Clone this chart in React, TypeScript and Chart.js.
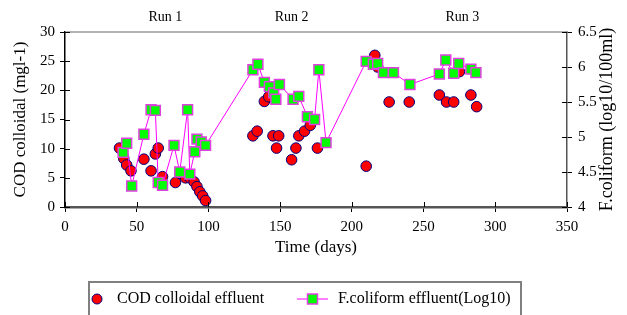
import React, { useEffect, useRef } from "react";
import { Chart, registerables } from "chart.js";

Chart.register(...registerables);

// ---------- data ----------
const codDays = [38, 41, 43, 46, 55, 60, 63, 65, 68, 77, 80, 84, 87, 90, 92, 94, 96, 98,
  131, 134, 139, 142, 145, 147.5, 149, 158, 161, 163, 167, 171, 176,
  210, 216, 218, 226, 240, 261, 266, 271, 275, 283, 287];
const codValues = [10.1, 8.3, 7.2, 6.2, 8.2, 6.2, 9.1, 10.1, 5.2, 4.2, 5.8, 5.0, 5.0, 4.3, 3.5, 2.6, 1.9, 1.1,
  12.2, 13.0, 18.1, 18.9, 12.2, 10.1, 12.2, 8.1, 10.1, 12.2, 13.0, 14.0, 10.1,
  7.0, 26.0, 24.0, 18.0, 18.0, 19.2, 18.0, 18.0, 23.2, 19.2, 17.2];

const fcDays = [40.5, 43, 46.5, 55, 60, 63, 65, 68, 76, 80, 85.5, 87, 90.5, 92, 95, 98,
  131, 134.5, 139, 142.5, 145.5, 147, 149.5, 159, 163, 169, 174, 177, 182,
  210, 215, 218, 222, 229, 240.5, 261, 265.5, 271, 274.5, 283, 286.5];
const fcValues = [4.78, 4.91, 4.3, 5.04, 5.39, 5.38, 4.35, 4.31, 4.88, 4.5, 5.39, 4.47, 4.79, 4.97, 4.93, 4.88,
  5.96, 6.04, 5.78, 5.72, 5.63, 5.54, 5.75, 5.54, 5.58, 5.29, 5.25, 5.96, 4.92,
  6.08, 6.04, 6.05, 5.92, 5.92, 5.75, 5.9, 6.1, 5.91, 6.05, 5.97, 5.92];

const xTickValues = [0, 50, 100, 150, 200, 250, 300, 350];
const leftTickValues = [0, 5, 10, 15, 20, 25, 30];
const rightTickLabels = ["4", "4.5", "5", "5.5", "6", "6.5"];

const runLabels = ["Run 1", "Run 2", "Run 3"];
const runLabelDays = [70, 158, 277];

const seriesNames = ["COD colloidal effluent", "F.coliform effluent(Log10)"];
const leftTitle = "COD colloidal (mgl-1)";
const rightTitle = "F.coliform (log10/100ml)";
const xTitle = "Time (days)";

const FONT = "'Liberation Serif', 'Times New Roman', serif";

const overlay = {
  id: "overlay",
  afterDraw(chart: any) {
    const { ctx, chartArea, scales } = chart;
    const xs = scales.x, ys = scales.y, yr = scales.y1;
    ctx.save();
    // top frame line
    ctx.strokeStyle = "#9a9a9a";
    ctx.lineWidth = 1.5;
    ctx.beginPath();
    ctx.moveTo(chartArea.left, chartArea.top);
    ctx.lineTo(chartArea.right, chartArea.top);
    ctx.stroke();
    // inner half of crossing ticks
    ctx.strokeStyle = "#000";
    ctx.lineWidth = 1;
    ctx.beginPath();
    for (const t of xs.ticks) {
      const px = Math.round(xs.getPixelForValue(t.value)) + 0.5;
      ctx.moveTo(px, chartArea.bottom);
      ctx.lineTo(px, chartArea.bottom - 5);
    }
    for (const t of ys.ticks) {
      const py = Math.round(ys.getPixelForValue(t.value)) + 0.5;
      ctx.moveTo(chartArea.left, py);
      ctx.lineTo(chartArea.left + 5, py);
    }
    for (const t of yr.ticks) {
      const py = Math.round(yr.getPixelForValue(t.value)) + 0.5;
      ctx.moveTo(chartArea.right, py);
      ctx.lineTo(chartArea.right - 5, py);
    }
    ctx.stroke();

    // run labels
    ctx.fillStyle = "#000";
    ctx.font = `14px ${FONT}`;
    ctx.textAlign = "center";
    ctx.textBaseline = "middle";
    runLabels.forEach((lab, i) => {
      ctx.fillText(lab, xs.getPixelForValue(runLabelDays[i]), chartArea.top - 15);
    });

    // right title, reading bottom-to-top
    ctx.save();
    ctx.font = `18px ${FONT}`;
    ctx.translate(607, (chartArea.top + chartArea.bottom) / 2);
    ctx.rotate(-Math.PI / 2);
    ctx.fillText(rightTitle, 0, 0);
    ctx.restore();

    // legend box
    const bx = 89, by = 282, bw = 432, bh = 60;
    ctx.strokeStyle = "#808080";
    ctx.lineWidth = 2;
    ctx.strokeRect(bx, by, bw, bh);
    const ly = 299;
    const d0 = chart.data.datasets[1];
    const d1 = chart.data.datasets[0];
    // circle
    ctx.beginPath();
    ctx.arc(97, ly, 5, 0, Math.PI * 2);
    ctx.fillStyle = d0.backgroundColor;
    ctx.fill();
    ctx.lineWidth = 1;
    ctx.strokeStyle = d0.borderColor;
    ctx.stroke();
    ctx.fillStyle = "#000";
    ctx.font = `16px ${FONT}`;
    ctx.textAlign = "left";
    ctx.fillText(d0.label, 117, ly);
    // line + square
    ctx.strokeStyle = d1.borderColor;
    ctx.lineWidth = 1;
    ctx.beginPath();
    ctx.moveTo(297, ly);
    ctx.lineTo(328, ly);
    ctx.stroke();
    ctx.fillStyle = d1.pointBackgroundColor;
    ctx.fillRect(307.5, ly - 5, 10, 10);
    ctx.strokeStyle = d1.pointBorderColor;
    ctx.lineWidth = 1.5;
    ctx.strokeRect(307.5, ly - 5, 10, 10);
    ctx.fillStyle = "#000";
    ctx.fillText(d1.label, 338, ly);
    ctx.restore();
  },
};

export default function App() {
  const ref = useRef<HTMLCanvasElement | null>(null);
  useEffect(() => {
    if (!ref.current) return;
    const chart = new Chart(ref.current, {
      type: "scatter",
      data: {
        datasets: [
          {
            label: seriesNames[1],
            data: fcDays.map((d, i) => ({ x: d, y: fcValues[i] })),
            yAxisID: "y1",
            showLine: true,
            borderColor: "#ff00ff",
            borderWidth: 1,
            pointStyle: "rect",
            pointRadius: 7,
            pointBackgroundColor: "#00ff00",
            pointBorderColor: "#e040e0",
            pointBorderWidth: 1.5,
            order: 0,
          } as any,
          {
            label: seriesNames[0],
            data: codDays.map((d, i) => ({ x: d, y: codValues[i] })),
            yAxisID: "y",
            showLine: false,
            backgroundColor: "#ff0000",
            borderColor: "#000080",
            pointStyle: "circle",
            pointRadius: 5.3,
            pointBackgroundColor: "#ff0000",
            pointBorderColor: "#000080",
            pointBorderWidth: 1,
            order: 1,
          } as any,
        ],
      },
      options: {
        animation: false,
        responsive: true,
        maintainAspectRatio: false,
        layout: { padding: { top: 32, left: 0, right: 0, bottom: 0 } },
        plugins: { legend: { display: false }, tooltip: { enabled: false } },
        scales: {
          x: {
            type: "linear",
            min: 0,
            max: 350,
            afterBuildTicks: (s: any) => { s.ticks = xTickValues.map((v) => ({ value: v })); },
            ticks: { color: "#000", font: { family: FONT, size: 15 }, padding: 6 },
            grid: { drawOnChartArea: false, drawTicks: true, tickLength: 5, color: "#000" },
            border: { display: true, color: "#555", width: 2.5 },
            title: { display: true, text: xTitle, color: "#000", font: { family: FONT, size: 17 }, padding: { top: 0, bottom: 57 } },
            afterFit: (s: any) => { s.height = 108; },
          },
          y: {
            type: "linear",
            position: "left",
            min: 0,
            max: 30,
            afterBuildTicks: (s: any) => { s.ticks = leftTickValues.map((v) => ({ value: v })); },
            ticks: { color: "#000", font: { family: FONT, size: 15 }, padding: 5 },
            grid: { drawOnChartArea: false, drawTicks: true, tickLength: 5, color: "#000" },
            border: { display: true, color: "#000", width: 1.5 },
            title: { display: true, text: leftTitle, color: "#000", font: { family: FONT, size: 17 }, padding: { top: 10, bottom: 0 } },
            afterFit: (s: any) => { s.width = 65; },
          },
          y1: {
            type: "linear",
            position: "right",
            min: 4,
            max: 6.5,
            afterBuildTicks: (s: any) => { s.ticks = rightTickLabels.map((v) => ({ value: parseFloat(v) })); },
            ticks: {
              color: "#000",
              font: { family: FONT, size: 15 },
              padding: 6,
              callback: (v: any) => rightTickLabels.find((l) => parseFloat(l) === v) ?? "",
            },
            grid: { drawOnChartArea: false, drawTicks: true, tickLength: 5, color: "#000" },
            border: { display: true, color: "#555", width: 1.5 },
            afterFit: (s: any) => { s.width = 60; },
          },
        },
      },
      plugins: [overlay],
    });
    return () => chart.destroy();
  }, []);
  return (
    <div style={{ position: "fixed", left: 0, top: 0, width: 627, height: 315 }}>
      <canvas ref={ref} />
    </div>
  );
}
